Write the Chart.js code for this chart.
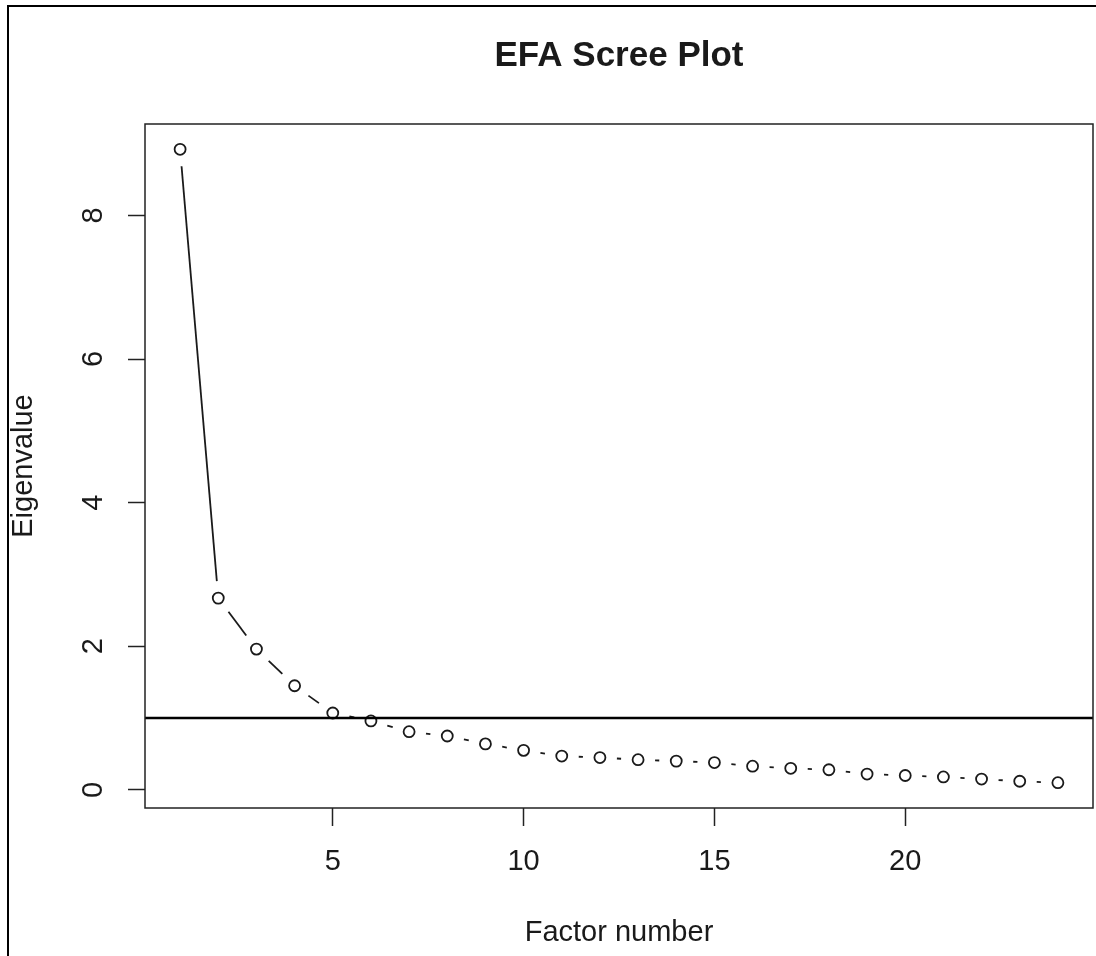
<!DOCTYPE html>
<html>
<head>
<meta charset="utf-8">
<title>EFA Scree Plot</title>
<script src="https://cdn.jsdelivr.net/npm/chart.js@4.4.1/dist/chart.umd.min.js"></script>
<style>
  html, body { margin: 0; padding: 0; background: #fff; overflow: hidden; }
  #wrap { position: relative; width: 1096px; height: 956px; }
  #frame { position: absolute; left: 7px; top: 5px; right: -10px; bottom: -10px;
           border-left: 2px solid #000; border-top: 2px solid #000; pointer-events: none; }
  canvas { position: absolute; left: 0; top: 0; }
</style>
</head>
<body>
<div id="wrap">
  <canvas id="myChart" width="1096" height="956"></canvas>
  <div id="frame"></div>
</div>
<script>
// data
const factors = [1, 2, 3, 4, 5, 6, 7, 8, 9, 10, 11, 12, 13, 14, 15, 16, 17, 18, 19, 20, 21, 22, 23, 24]
const eigenvalues = [8.92, 2.67, 1.96, 1.45, 1.07, 0.96, 0.81, 0.75, 0.64, 0.55, 0.47, 0.45,
                     0.42, 0.40, 0.38, 0.33, 0.30, 0.28, 0.22, 0.20, 0.18, 0.15, 0.12, 0.10]
const xTicks = [5, 10, 15, 20]
const yTicks = [0, 2, 4, 6, 8]
const kaiserLine = 1

const fontName = "'Liberation Sans', Arial, sans-serif"
const ink = '#1a1a1a'

// R style axis range: data range plus 4% on each side
function rRange(values){
    let lo = Math.min(...values)
    let hi = Math.max(...values)
    let d = (hi - lo) * 0.04
    return [lo - d, hi + d]
}
const xRange = rRange(factors)
const yRange = rRange(eigenvalues)

const points = factors.map((f, i) => ({x: f, y: eigenvalues[i]}))

// type = "b": line pieces that stop short of every point
const gapLines = {
    id: 'gapLines',
    beforeDatasetsDraw(chart){
        const meta = chart.getDatasetMeta(0)
        const c = chart.ctx
        const gap = 17
        c.save()
        c.strokeStyle = ink
        c.lineWidth = 1.8
        for (let i = 1; i < meta.data.length; i++) {
            let a = meta.data[i-1]
            let b = meta.data[i]
            let dx = b.x - a.x
            let dy = b.y - a.y
            let len = Math.sqrt(dx*dx + dy*dy)
            if (len <= gap * 2) continue
            let ux = dx / len, uy = dy / len
            c.beginPath()
            c.moveTo(a.x + ux*gap, a.y + uy*gap)
            c.lineTo(b.x - ux*gap, b.y - uy*gap)
            c.stroke()
        }
        c.restore()
    }
}

// box round the plot and the eigenvalue = 1 line
const boxAndLine = {
    id: 'boxAndLine',
    afterDatasetsDraw(chart){
        const {ctx: c, chartArea: a, scales} = chart
        c.save()
        let yk = scales.y.getPixelForValue(kaiserLine)
        c.strokeStyle = '#000'
        c.lineWidth = 2.5
        c.beginPath()
        c.moveTo(a.left, yk)
        c.lineTo(a.right, yk)
        c.stroke()
        c.strokeStyle = '#222'
        c.lineWidth = 1.5
        c.strokeRect(a.left, a.top, a.right - a.left, a.bottom - a.top)
        c.restore()
    }
}

const ctx = document.getElementById('myChart')

new Chart(ctx, {
    type: 'scatter',
    data: {
        datasets: [{
            label: 'Eigenvalue',
            data: points,
            showLine: false,
            pointStyle: 'circle',
            pointRadius: 5.5,
            pointHoverRadius: 5.5,
            pointBorderWidth: 1.8,
            pointBorderColor: ink,
            pointBackgroundColor: 'rgba(0,0,0,0)'
        }]
    },
    options: {
        responsive: false,
        animation: false,
        devicePixelRatio: 1,
        layout: { autoPadding: false, padding: { left: 0, right: 3, top: 0, bottom: 0 } },
        plugins: {
            legend: { display: false },
            tooltip: { enabled: false },
            title: {
                display: true,
                fullSize: false,
                text: 'EFA Scree Plot',
                color: ink,
                font: { family: fontName, size: 35, weight: 'bold', lineHeight: 1.2 },
                padding: { top: 35, bottom: 47 }
            }
        },
        scales: {
            x: {
                type: 'linear',
                min: xRange[0],
                max: xRange[1],
                afterBuildTicks: (scale) => { scale.ticks = xTicks.map(v => ({value: v})) },
                afterFit: (scale) => { scale.height = 148 },
                grid: { drawOnChartArea: false, drawTicks: true, tickLength: 18, tickWidth: 1.5, tickColor: '#222' },
                border: { display: false },
                ticks: {
                    color: ink,
                    padding: 19,
                    maxRotation: 0,
                    autoSkip: false,
                    font: { family: fontName, size: 29 }
                },
                title: {
                    display: true,
                    text: 'Factor number',
                    color: ink,
                    font: { family: fontName, size: 29 },
                    padding: { top: 0, bottom: 6 }
                }
            },
            y: {
                type: 'linear',
                min: yRange[0],
                max: yRange[1],
                afterBuildTicks: (scale) => { scale.ticks = yTicks.map(v => ({value: v})) },
                afterFit: (scale) => { scale.width = 145 },
                grid: { drawOnChartArea: false, drawTicks: true, tickLength: 17, tickWidth: 1.5, tickColor: '#222' },
                border: { display: false },
                ticks: {
                    color: ink,
                    padding: 26,
                    minRotation: 90,
                    maxRotation: 90,
                    crossAlign: 'center',
                    autoSkip: false,
                    font: { family: fontName, size: 29 }
                },
                title: {
                    display: true,
                    text: 'Eigenvalue',
                    color: ink,
                    font: { family: fontName, size: 29 },
                    padding: { top: 7, bottom: 0 }
                }
            }
        }
    },
    plugins: [gapLines, boxAndLine]
})
</script>
</body>
</html>
